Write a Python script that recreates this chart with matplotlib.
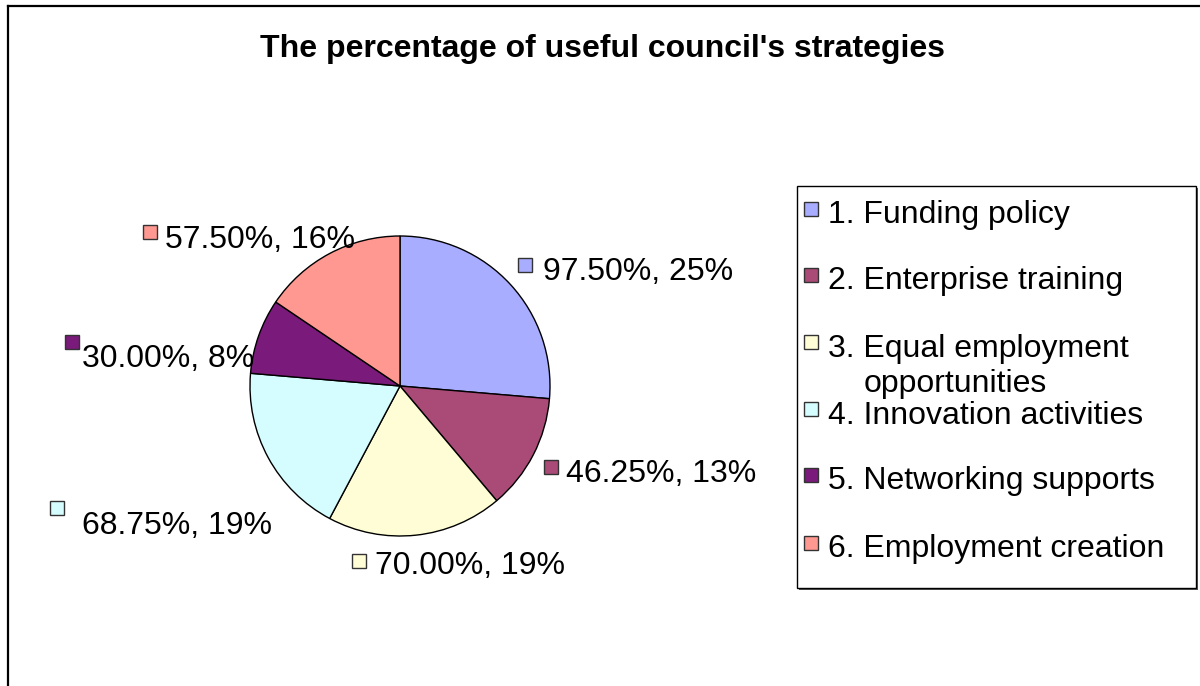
import matplotlib
matplotlib.use("Agg")
import matplotlib.pyplot as plt
from matplotlib.patches import Rectangle
from matplotlib.lines import Line2D

plt.rcParams['font.family'] = ['Liberation Sans', 'DejaVu Sans']

# Data
title = "The percentage of useful council's strategies"
categories = ["1. Funding policy", "2. Enterprise training",
              "3. Equal employment opportunities", "4. Innovation activities",
              "5. Networking supports", "6. Employment creation"]
values = [97.50, 46.25, 70.00, 68.75, 30.00, 57.50]
shares = [25, 13, 19, 19, 8, 16]
colors = ["#A9ADFF", "#AA4A77", "#FFFDD5", "#D5FDFF", "#7A1A7A", "#FF9891"]

W, H = 1200, 686
FS = 23
fig = plt.figure(figsize=(W / 100, H / 100), dpi=100)


def fx(x):
    return x / W


def fy(y):
    return 1 - y / H


tf = fig.transFigure

# Outer chart frame (left and top edges visible)
fig.add_artist(Line2D([fx(8), fx(8)], [fy(6), fy(H + 5)], color="black", lw=1.6, transform=tf))
fig.add_artist(Line2D([fx(8), fx(W + 5)], [fy(6), fy(6)], color="black", lw=1.6, transform=tf))

# Title
fig.text(fx(603), fy(57), title, ha="center", va="baseline",
         fontsize=23, fontweight="bold", transform=tf)

# Pie
cx, cy, r = 400, 386, 150
ax = fig.add_axes([fx(cx - r), fy(cy + r), 2 * r / W, 2 * r / H])
ax.pie(values, colors=colors, startangle=90, counterclock=False,
       wedgeprops=dict(edgecolor="black", linewidth=1.0))
ax.set_xlim(-1, 1)
ax.set_ylim(-1, 1)
ax.set_axis_off()

# Data labels: key square + "value, share" text
label_text_pos = [(543, 268), (566, 470), (375, 563), (82, 523), (82, 355), (165, 236)]
label_key_pos = [(525, 265), (551, 467), (359, 561), (57, 508), (72, 342), (150, 232)]
key = 14
for v, s, c, (tx, ty), (kx, ky) in zip(values, shares, colors, label_text_pos, label_key_pos):
    fig.add_artist(Rectangle((fx(kx - key / 2), fy(ky + key / 2)), key / W, key / H,
                             facecolor=c, edgecolor="#333333", lw=1.0, transform=tf))
    fig.text(fx(tx), fy(ty + 11.5), f"{v:.2f}%, {s}%", ha="left", va="baseline",
             fontsize=FS, transform=tf)

# Legend
lx0, ly0, lx1, ly1 = 797, 186, 1196, 588
fig.add_artist(Rectangle((fx(lx0 + 2), fy(ly1 + 2)), (lx1 - lx0) / W, (ly1 - ly0) / H,
                         facecolor="#555555", edgecolor="none", transform=tf))
fig.add_artist(Rectangle((fx(lx0), fy(ly1)), (lx1 - lx0) / W, (ly1 - ly0) / H,
                         facecolor="white", edgecolor="black", lw=1.0, transform=tf))
legend_lines = [["1. Funding policy"], ["2. Enterprise training"],
                ["3. Equal employment", "opportunities"], ["4. Innovation activities"],
                ["5. Networking supports"], ["6. Employment creation"]]
legend_y = [212, 278, 345, 412, 478, 546]
for lines, c, y in zip(legend_lines, colors, legend_y):
    fig.add_artist(Rectangle((fx(804), fy(y - 3 + key / 2)), key / W, key / H,
                             facecolor=c, edgecolor="#333333", lw=1.0, transform=tf))
    fig.text(fx(828), fy(y + 11.5), lines[0], ha="left", va="baseline",
             fontsize=FS, transform=tf)
    if len(lines) > 1:
        fig.text(fx(864), fy(y + 35 + 11.5), lines[1], ha="left", va="baseline",
                 fontsize=FS, transform=tf)

fig.savefig("out.png", dpi=100, facecolor="white")
